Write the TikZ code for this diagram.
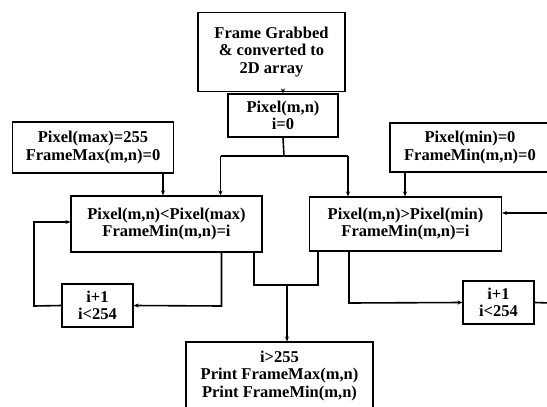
\documentclass[tikz,border=0pt]{standalone}
\usepackage{fontspec}
\setmainfont{Liberation Serif}
\usetikzlibrary{arrows.meta}

\begin{document}
\begin{tikzpicture}[x=1pt, y=-1pt, >={Stealth[length=5pt,width=4pt]},
                    every node/.style={rectangle, draw, line width=1.1pt, align=center, inner sep=0pt,
                                       font=\fontsize{16.5}{17.5}\selectfont\bfseries},
                    flow/.style={line width=1.6pt}]
\useasboundingbox (0,0) rectangle (547,407);

% Define nodes
\node[minimum width=147pt, minimum height=79pt] (grab) at (271.5,52) {Frame Grabbed\\\& converted to\\2D array}; % start
\node[minimum width=110pt, minimum height=43pt] (pix) at (283,115.5) {Pixel(m,n)\\i=0};
\node[minimum width=161pt, minimum height=51pt] (pmax) at (93,147.5) {Pixel(max)=255\\FrameMax(m,n)=0};
\node[minimum width=160pt, minimum height=49pt] (pmin) at (470,147.5) {Pixel(min)=0\\FrameMin(m,n)=0};
\node[minimum width=191pt, minimum height=56pt] (lbox) at (166.5,224) {Pixel(m,n)<Pixel(max)\\FrameMin(m,n)=i}; % max search
\node[minimum width=192pt, minimum height=54pt] (rbox) at (405.5,224) {Pixel(m,n)>Pixel(min)\\FrameMin(m,n)=i}; % min search
\node[minimum width=71pt, minimum height=43pt] (linc) at (97.5,305.5) {i+1\\i<254};
\node[minimum width=71pt, minimum height=43pt] (rinc) at (498.5,302.5) {i+1\\i<254};
\node[minimum width=187pt, minimum height=76pt, text depth=12pt] (out) at (279.5,380) {i>255\\Print FrameMax(m,n)\\Print FrameMin(m,n)}; % result

% Define helper points
\coordinate (split) at (284,156);
\coordinate (merge) at (287,285);
\coordinate (redgeA) at (550,213);
\coordinate (redgeB) at (550,303);

% Define edges
\draw[flow, ->] (pix.north |- grab.south) -- (pix.north);
\draw[flow] (pix.south) -- (split);
\draw[flow, ->] (220.5,156) -- (220.5,156 |- lbox.north);
\draw[flow, ->] (348,156) -- (348,156 |- rbox.north);
\draw[flow] (220.5,156) -- (348,156);
\draw[flow, ->] (163,156 |- pmax.south) -- (163,156 |- lbox.north);
\draw[flow, ->] (405,156 |- pmin.south) -- (405,156 |- rbox.north);
\draw[flow, ->] (221.5,306 |- lbox.south) -- (221.5,306) -- (linc.east);
\draw[flow, ->] (linc.west) -- (34,306) -- (34,222) -- (lbox.west |- 34,222);
\draw[flow] (254,285 |- lbox.south) -- (254,285) -- (318,285) -- (318,285 |- rbox.south);
\draw[flow, ->] (merge) -- (merge |- out.north);
\draw[flow, ->] (349,303 |- rbox.south) -- (349,303) -- (rinc.west);
\draw[flow] (rinc.east) -- (redgeB);
\draw[flow, ->] (redgeA) -- (rbox.east |- redgeA);
\end{tikzpicture}
\end{document}
